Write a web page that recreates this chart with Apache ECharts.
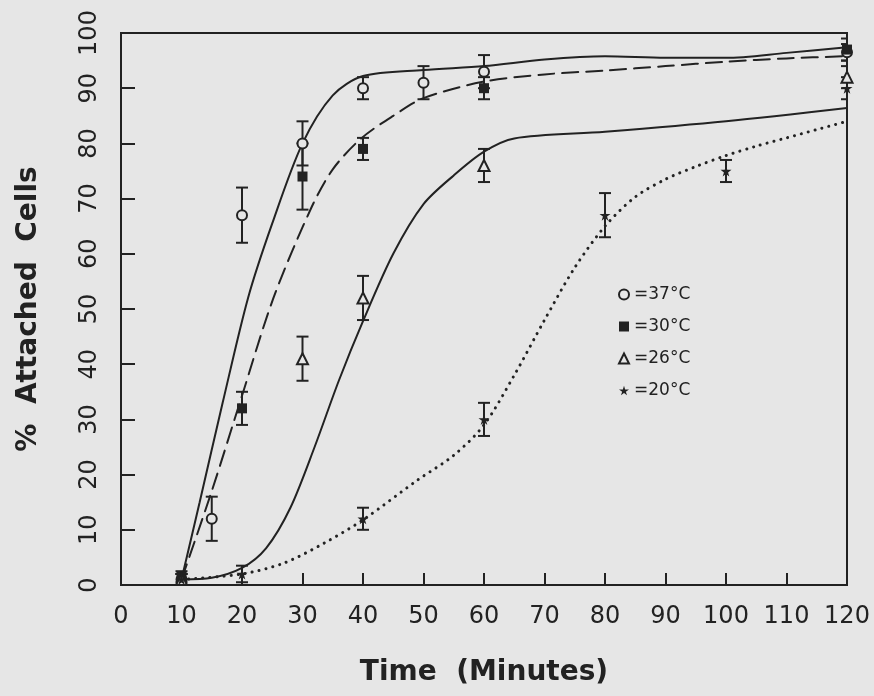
<!DOCTYPE html>
<html>
<head>
<meta charset="utf-8">
<script src="https://cdn.jsdelivr.net/npm/echarts@6/dist/echarts.min.js"></script>
<style>
html,body{margin:0;padding:0;background:#e6e6e6;}
#chart{width:874px;height:696px;}
</style>
</head>
<body>
<div id="chart"></div>
<script>
// ---- data ----
const seriesNames = ['=37°C', '=30°C', '=26°C', '=20°C'];
// observed points: [time (min), % attached, error]
const obs37 = [[10,1,1],[15,12,4],[20,67,5],[30,80,4],[40,90,2],[50,91,3],[60,93,3],[120,96.5,1.5]];
const obs30 = [[10,1.5,1],[20,32,3],[30,74,6],[40,79,2],[60,90,2],[120,97,2]];
const obs26 = [[10,1,1],[30,41,4],[40,52,4],[60,76,3],[120,92,2]];
const obs20 = [[10,1,1],[20,2,1.5],[40,12,2],[60,30,3],[80,67,4],[100,75,2],[120,90,2]];
// fitted curves
const fit37 = [[10,1],[13,15],[16.8,33],[21,52],[25,65.5],[30,80],[35,88.7],[40,92.2],[50,93.3],[60,94],[70,95.2],[80,95.8],[90,95.5],[100,95.5],[110,96.4],[120,97.4]];
const fit30 = [[10,1],[15,17],[19.8,33.6],[25.2,52],[31.4,68.2],[35,75.3],[39.7,80.9],[45,85],[50,88.2],[60,91.2],[70,92.5],[80,93.2],[90,94],[100,94.8],[110,95.4],[120,95.8]];
const fit26 = [[10,1],[15,1.3],[20,3.1],[24,6.7],[28,14],[32,25],[36,37],[40,47.8],[45,60],[50,69],[55,74.2],[60,78.5],[65,80.9],[80,82.1],[100,84],[120,86.4]];
const fit20 = [[10,1],[20,2],[27,4],[33.6,7.6],[40,11.8],[49,19],[55,23.5],[60,29],[65,38],[70,48],[75,57.5],[80,65],[85,70.3],[90,73.5],[95,75.8],[100,77.8],[105,79.5],[110,81],[115,82.5],[120,84]];

const INK = '#222';
const BG = '#e6e6e6';
const FONT = "'DejaVu Sans', 'Liberation Sans', Arial, sans-serif";
const starPath = 'path://M50,0 L61,35 L98,35 L68,57 L79,91 L50,70 L21,91 L32,57 L2,35 L39,35 Z';

function errorBars(data) {
  return {
    type: 'custom', data: data, z: 3, clip: true, silent: true,
    encode: {x: 0, y: 1},
    renderItem: function (params, api) {
      const x = api.value(0), y = api.value(1), e = api.value(2);
      const t = api.coord([x, y + e]);
      const b = api.coord([x, Math.max(0, y - e)]);
      const w = 6;
      const st = {stroke: INK, lineWidth: 2};
      return {type: 'group', children: [
        {type: 'line', shape: {x1: t[0], y1: t[1], x2: b[0], y2: b[1]}, style: st},
        {type: 'line', shape: {x1: t[0] - w, y1: t[1], x2: t[0] + w, y2: t[1]}, style: st},
        {type: 'line', shape: {x1: b[0] - w, y1: b[1], x2: b[0] + w, y2: b[1]}, style: st}
      ]};
    }
  };
}
function curve(data, type) {
  return {
    type: 'line', data: data, smooth: 0.3, showSymbol: false, silent: true, z: 2,
    lineStyle: {color: INK, width: type === 'dotted' ? 3 : 2,
      type: type === 'dashed' ? [16, 8] : (type === 'dotted' ? [0.1, 7] : 'solid'),
      cap: 'round'}
  };
}
function points(name, data, symbol, size, filled) {
  return {
    name: name, type: 'scatter', data: data.map(d => [d[0], d[1]]), z: 4,
    symbol: symbol, symbolSize: size,
    itemStyle: {color: filled ? INK : BG, borderColor: INK, borderWidth: filled ? 0 : 2, opacity: 1}
  };
}

const chart = echarts.init(document.getElementById('chart'));
chart.setOption({
  backgroundColor: BG,
  animation: false,
  textStyle: {fontFamily: FONT, color: INK},
  grid: {left: 121, right: 27, top: 33, bottom: 111, show: true, borderColor: INK, borderWidth: 2, backgroundColor: 'transparent'},
  legend: {
    orient: 'vertical', left: 613, top: 281, itemWidth: 10, itemHeight: 10, itemGap: 15,
    textStyle: {fontSize: 17, color: INK, fontFamily: FONT},
    data: [
      {name: seriesNames[0], icon: 'circle'},
      {name: seriesNames[1], icon: 'rect'},
      {name: seriesNames[2], icon: 'triangle'},
      {name: seriesNames[3], icon: starPath}
    ]
  },
  xAxis: {
    type: 'value', min: 0, max: 120, interval: 10,
    name: 'Time  (Minutes)', nameLocation: 'middle', nameGap: 74,
    nameTextStyle: {fontSize: 28, fontWeight: 'bold', color: INK, fontFamily: FONT},
    axisLine: {lineStyle: {color: INK, width: 2}},
    axisTick: {inside: true, length: 12, lineStyle: {color: INK, width: 2}},
    axisLabel: {fontSize: 24, color: INK, margin: 20, fontFamily: FONT},
    splitLine: {show: false}
  },
  yAxis: {
    type: 'value', min: 0, max: 100, interval: 10,
    name: '%  Attached  Cells', nameLocation: 'middle', nameGap: 78,
    nameTextStyle: {fontSize: 28, fontWeight: 'bold', color: INK, fontFamily: FONT},
    axisLine: {lineStyle: {color: INK, width: 2}},
    axisTick: {inside: true, length: 14, lineStyle: {color: INK, width: 2}},
    axisLabel: {fontSize: 24, color: INK, margin: 19, rotate: 90, fontFamily: FONT},
    splitLine: {show: false}
  },
  series: [
    curve(fit37, 'solid'),
    curve(fit30, 'dashed'),
    curve(fit26, 'solid'),
    curve(fit20, 'dotted'),
    errorBars(obs37), errorBars(obs30), errorBars(obs26), errorBars(obs20),
    points(seriesNames[0], obs37, 'circle', 10, false),
    points(seriesNames[1], obs30, 'rect', 10, true),
    points(seriesNames[2], obs26, 'triangle', 11, false),
    points(seriesNames[3], obs20, starPath, 11, true)
  ]
});
</script>
</body>
</html>
